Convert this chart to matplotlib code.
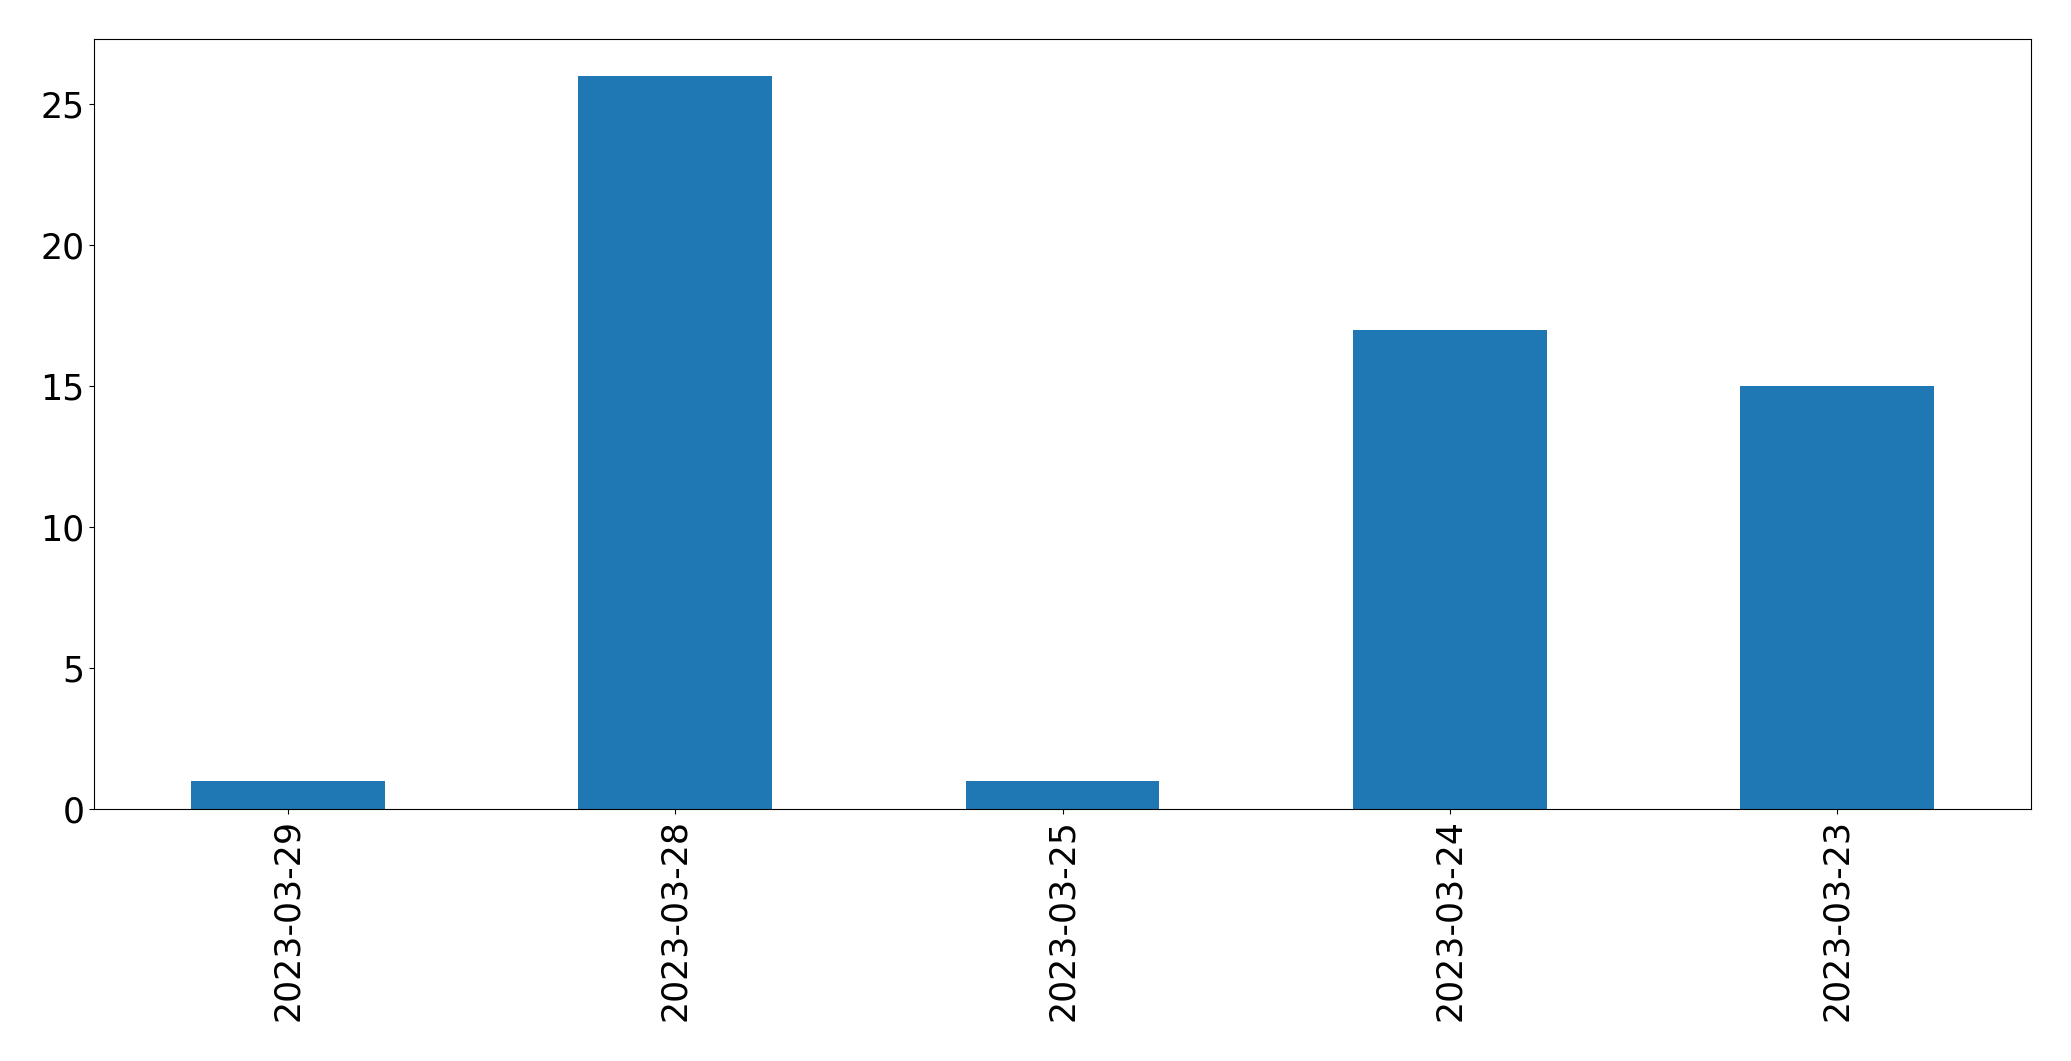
import matplotlib
matplotlib.use("Agg")
import matplotlib.pyplot as plt
import numpy as np

dates = ["2023-03-29", "2023-03-28", "2023-03-25", "2023-03-24", "2023-03-23"]
counts = [1, 26, 1, 17, 15]

fig = plt.figure(figsize=(20.71, 10.61), dpi=100)
ax = fig.add_axes([0.0454, 0.2375, 0.9353, 0.7253])

x = np.arange(len(dates))
ax.bar(x, counts, width=0.5, color="#1f77b4")
ax.set_xlim(-0.5, len(dates) - 0.5)
ax.set_ylim(0, max(counts) * 1.05)
ax.set_xticks(x)
ax.set_xticklabels(dates, rotation=90)
ax.tick_params(labelsize=25)

fig.savefig("out.png", dpi=100)
